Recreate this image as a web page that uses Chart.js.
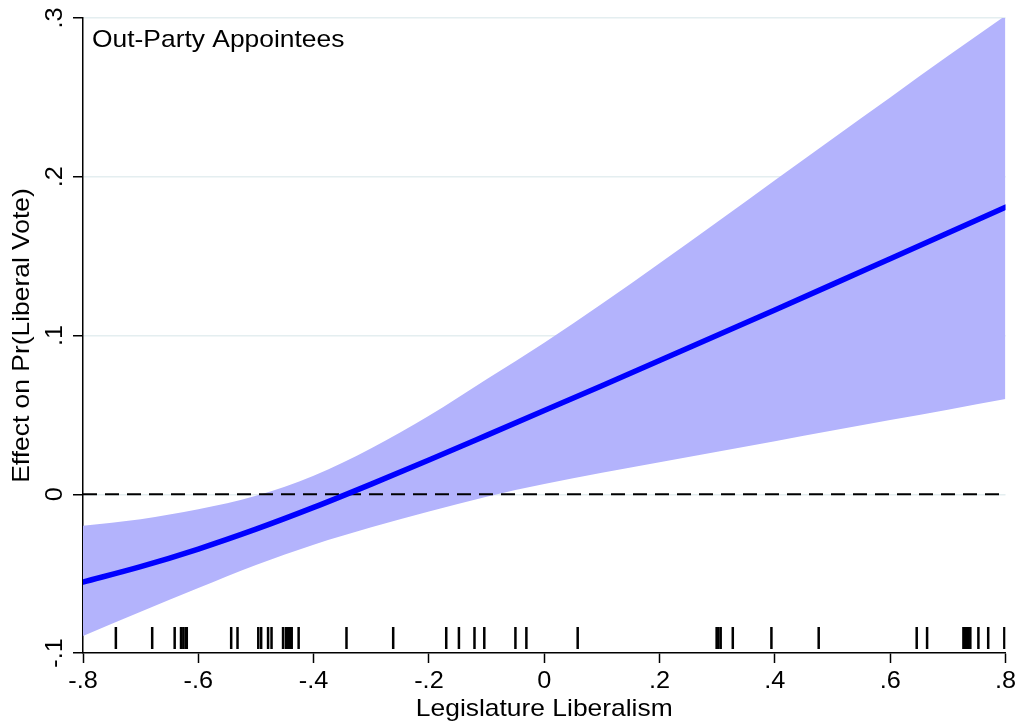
<!DOCTYPE html>
<html>
<head>
<meta charset="utf-8">
<script src="https://cdn.jsdelivr.net/npm/chart.js@4.4.1/dist/chart.umd.min.js"></script>
<style>
    html, body { margin: 0; padding: 0; background: #fff; }
</style>
</head>
<body>
<canvas id="graficoEfecto" width="1019" height="723"></canvas>
<script>
// valores
const xGrid = [-0.8, -0.7, -0.6, -0.5, -0.4, -0.3, -0.2, -0.1, 0.0, 0.1, 0.2, 0.3, 0.4, 0.5, 0.6, 0.7, 0.8];
const efecto = [-0.0553, -0.0456, -0.0345, -0.0220, -0.0083, 0.0064, 0.0216, 0.0371, 0.0527, 0.0684, 0.0842, 0.1001, 0.1161, 0.1322, 0.1484, 0.1646, 0.1808];
const limiteSup = [-0.0198, -0.0157, -0.0095, -0.0010, 0.0117, 0.0290, 0.0495, 0.0725, 0.0955, 0.1200, 0.1455, 0.1715, 0.1978, 0.2240, 0.2500, 0.2760, 0.3015];
const limiteInf = [-0.0893, -0.0740, -0.0590, -0.0445, -0.0318, -0.0208, -0.0108, -0.0015, 0.0065, 0.0135, 0.0202, 0.0268, 0.0334, 0.0401, 0.0467, 0.0533, 0.0600];
const rugX = [-0.743, -0.680, -0.641, -0.630, -0.626, -0.622, -0.620, -0.543, -0.532, -0.496, -0.491,
    -0.479, -0.473, -0.453, -0.448, -0.444, -0.441, -0.438, -0.426, -0.343, -0.262, -0.170, -0.148,
    -0.121, -0.104, -0.050, -0.031, 0.058, 0.299, 0.302, 0.306, 0.327, 0.394, 0.476, 0.646, 0.664,
    0.727, 0.730, 0.733, 0.736, 0.739, 0.753, 0.770, 0.798];
const xTickLabels = ['-.8', '-.6', '-.4', '-.2', '0', '.2', '.4', '.6', '.8'];
const yTickLabels = ['-.1', '0', '.1', '.2', '.3'];

const RUG_Y = -0.0905;
const FUENTE = '"Liberation Sans", Arial, Helvetica, sans-serif';
const ESTIRAR = 1.1; // el texto del original es algo mas ancho que Arial

const canvas = document.getElementById('graficoEfecto');
const ctx = canvas.getContext('2d');

// ensanchar todo el texto a lo largo de su linea base
const fillTextOriginal = ctx.fillText.bind(ctx);
ctx.fillText = function (texto, x, y, maxWidth) {
    ctx.save();
    ctx.translate(x, y);
    ctx.scale(ESTIRAR, 1);
    if (maxWidth === undefined) {
        fillTextOriginal(texto, 0, 0);
    } else {
        fillTextOriginal(texto, 0, 0, maxWidth / ESTIRAR);
    }
    ctx.restore();
};

const puntos = (ys) => xGrid.map((x, i) => ({ x: x, y: ys[i] }));

// etiquetas del eje y giradas como en Stata
const etiquetasY = {
    id: 'etiquetasY',
    afterDraw(chart) {
        const c = chart.ctx;
        const escala = chart.scales.y;
        c.save();
        c.font = '23px ' + FUENTE;
        c.fillStyle = '#000';
        c.textAlign = 'center';
        c.textBaseline = 'alphabetic';
        escala.ticks.forEach((t, i) => {
            const py = escala.getPixelForValue(t.value);
            c.save();
            c.translate(62, py);
            c.rotate(-Math.PI / 2);
            c.fillText(yTickLabels[i], 0, 0);
            c.restore();
        });
        c.restore();
    }
};

const nota = {
    id: 'nota',
    afterDraw(chart) {
        const c = chart.ctx;
        c.save();
        c.font = '24px ' + FUENTE;
        c.fillStyle = '#000';
        c.textAlign = 'left';
        c.textBaseline = 'alphabetic';
        c.fillText('Out-Party Appointees', chart.chartArea.left + 9, 47);
        c.restore();
    }
};

const chartEfecto = new Chart(ctx, {
    type: 'line',
    data: {
        datasets: [
            {
                type: 'scatter',
                label: 'rug',
                data: rugX.map(x => ({ x: x, y: RUG_Y })),
                pointStyle: 'line',
                rotation: 90,
                radius: 11,
                borderWidth: 2.5,
                borderColor: '#000',
                backgroundColor: '#000'
            },
            {
                label: 'Efecto',
                data: puntos(efecto),
                borderColor: '#0000ff',
                borderWidth: 5.5,
                borderCapStyle: 'round',
                pointRadius: 0,
                cubicInterpolationMode: 'monotone',
                fill: false
            },
            {
                label: 'cero',
                data: [{ x: -0.8, y: 0 }, { x: 0.8, y: 0 }],
                borderColor: '#000',
                borderWidth: 2.2,
                borderDash: [14, 8],
                pointRadius: 0,
                fill: false
            },
            {
                label: 'sup',
                data: puntos(limiteSup),
                borderWidth: 0,
                borderColor: 'rgba(0,0,0,0)',
                backgroundColor: 'rgb(179, 179, 252)',
                pointRadius: 0,
                cubicInterpolationMode: 'monotone',
                fill: '+1'
            },
            {
                label: 'inf',
                data: puntos(limiteInf),
                borderWidth: 0,
                borderColor: 'rgba(0,0,0,0)',
                pointRadius: 0,
                cubicInterpolationMode: 'monotone',
                fill: false
            }
        ]
    },
    options: {
        responsive: false,
        animation: false,
        devicePixelRatio: 1,
        layout: { padding: { left: 0, right: 11, top: 18, bottom: 0 } },
        plugins: {
            legend: { display: false },
            tooltip: { enabled: false }
        },
        scales: {
            x: {
                type: 'linear',
                min: -0.8,
                max: 0.8,
                afterFit: (s) => { s.height = 70; s.paddingLeft = 0; s.paddingRight = 0; },
                ticks: {
                    stepSize: 0.2,
                    color: '#000',
                    padding: 7.5,
                    maxRotation: 0,
                    font: { family: FUENTE, size: 23, lineHeight: 1 },
                    callback: (v, i) => xTickLabels[i]
                },
                grid: {
                    drawOnChartArea: false,
                    drawTicks: true,
                    tickLength: 10,
                    tickColor: '#000',
                    tickWidth: 1.5
                },
                border: { color: '#000', width: 1.5 },
                title: {
                    display: true,
                    text: 'Legislature Liberalism',
                    color: '#000',
                    font: { family: FUENTE, size: 24, lineHeight: 1 },
                    padding: { top: 0, bottom: 2 }
                }
            },
            y: {
                min: -0.1,
                max: 0.3,
                afterFit: (s) => { s.width = 83; },
                ticks: {
                    stepSize: 0.1,
                    display: false
                },
                grid: {
                    color: (c) => (c.tick && c.tick.value > -0.05) ? '#e4eef0' : 'rgba(0,0,0,0)',
                    lineWidth: 1.5,
                    drawTicks: true,
                    tickLength: 10,
                    tickColor: '#000',
                    tickWidth: 1.5
                },
                border: { color: '#000', width: 1.5 },
                title: {
                    display: true,
                    text: 'Effect on Pr(Liberal Vote)',
                    color: '#000',
                    font: { family: FUENTE, size: 24, lineHeight: 1 },
                    padding: { top: 10, bottom: 0 }
                }
            }
        }
    },
    plugins: [etiquetasY, nota]
});
</script>
</body>
</html>
